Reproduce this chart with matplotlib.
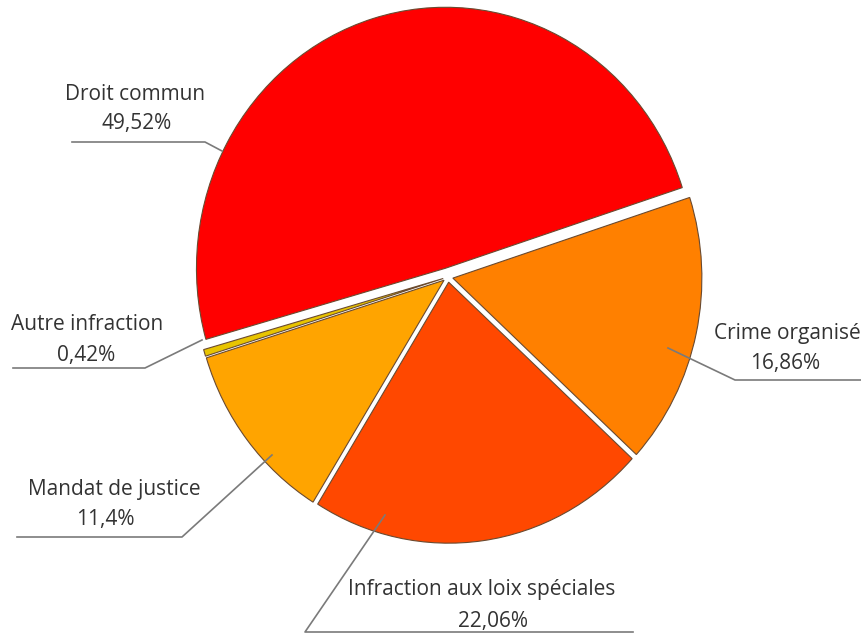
import matplotlib.pyplot as plt
from matplotlib.lines import Line2D

# Répartition des infractions
categories = ["Droit commun", "Autre infraction", "Mandat de justice",
              "Infraction aux loix spéciales", "Crime organisé"]
values = [49.52, 0.42, 11.4, 22.06, 16.86]
value_labels = ["49,52%", "0,42%", "11,4%", "22,06%", "16,86%"]
colors = ["#ff0000", "#e8c400", "#ffa400", "#ff4800", "#ff8000"]
explode = [0.035, 0.02, 0.02, 0.02, 0.02]

# layout (pixels): name centre, value centre, underline, leader end on the pie
name_xy = [(135, 95), (87, 325), (114, 490), (482, 590), (787, 333)]
value_xy = [(137, 124), (86, 355), (105, 520), (493, 621), (785, 363)]
underline = [((72, 142), (205, 142)), ((13, 368), (145, 368)),
             ((17, 537), (182, 537)), ((633, 632), (305, 632)),
             ((862, 380), (735, 380))]
leader_end = [(222, 151), (202, 340), (272, 455), (385, 515), (668, 348)]

W, H = 862, 633
cx, cy = 448, 277     # pie centre in pixels
sx, sy = 249, 261     # radius in pixels (x, y)

fig = plt.figure(figsize=(W / 100, H / 100), dpi=100)
ax = fig.add_axes([0, 0, 1, 1])
ax.pie(values, colors=colors, explode=explode, startangle=18,
       counterclock=True, frame=True,
       wedgeprops=dict(edgecolor="#6a4a30", linewidth=0.8))
ax.set_aspect("auto")
ax.set_xlim(-cx / sx, (W - cx) / sx)
ax.set_ylim(-(H - cy) / sy, cy / sy)
ax.axis("off")

ann = fig.add_axes([0, 0, 1, 1], zorder=3)
ann.set_xlim(0, W)
ann.set_ylim(H, 0)
ann.axis("off")
ann.patch.set_alpha(0)

for name, val, nxy, vxy, (p0, p1), pe in zip(categories, value_labels, name_xy,
                                             value_xy, underline, leader_end):
    ann.text(nxy[0], nxy[1], name, ha="center", va="center", fontsize=15,
             color="#333333", family="Open Sans")
    ann.text(vxy[0], vxy[1], val, ha="center", va="center", fontsize=15,
             color="#333333", family="Open Sans")
    ann.add_line(Line2D([p0[0], p1[0], pe[0]], [p0[1], p1[1], pe[1]],
                        color="#7a7a7a", linewidth=1.2))

fig.savefig("out.png", dpi=100)
